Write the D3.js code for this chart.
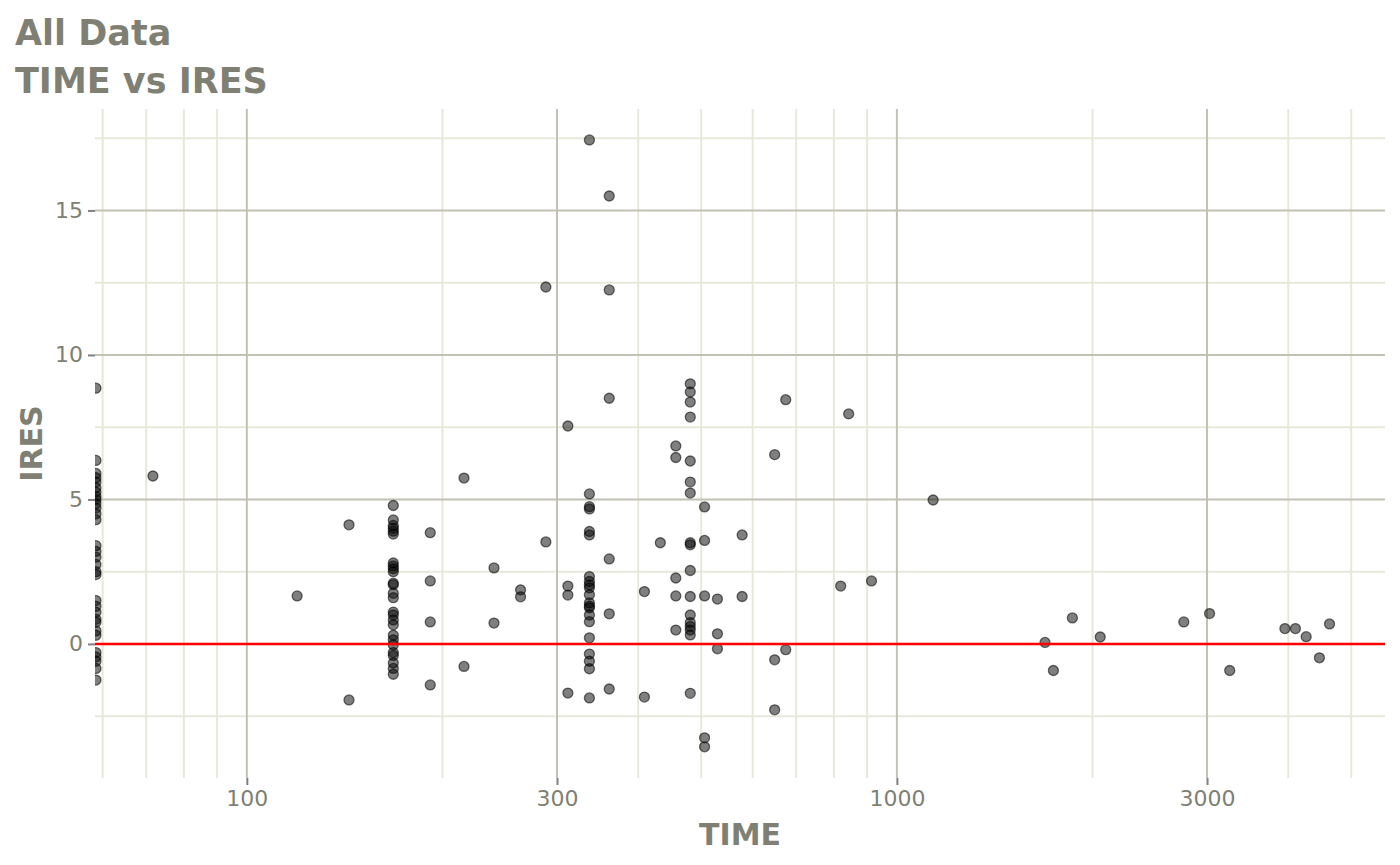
<!DOCTYPE html>
<html>
<head>
<meta charset="utf-8">
<script src="https://cdn.jsdelivr.net/npm/d3@7"></script>
<style>
  html, body { margin: 0; padding: 0; background: #fff; }
  svg { display: block; font-family: "DejaVu Sans", sans-serif; }
</style>
</head>
<body>
<svg id="chart" width="1400" height="865"></svg>
<script>
// ---- data ----
const titleLines = ["All Data", "TIME vs IRES"];
const xLabel = "TIME";
const yLabel = "IRES";

const xMajorTicks = [100, 300, 1000, 3000];
const xMinorTicks = [60, 70, 80, 90, 200, 400, 500, 600, 700, 800, 900, 2000, 4000, 5000];
const yMajorTicks = [0, 5, 10, 15];
const yMinorTicks = [-2.5, 2.5, 7.5, 12.5, 17.5];
const xDomain = [58.4, 5635];
const yDomain = [-4.64, 18.51];
const refLine = 0;

const timeVals = [
  // left edge column
  58.6, 58.6, 58.6, 58.6, 58.6, 58.6, 58.6, 58.6, 58.6, 58.6, 58.6, 58.6, 58.6, 58.6, 58.6, 58.6,
  58.6, 58.6, 58.6, 58.6, 58.6, 58.6, 58.6, 58.6, 58.6, 58.6, 58.6, 58.6, 58.6, 58.6, 58.6,
  71.7, 119.5, 143.6, 143.6,
  // column ~168
  168, 168, 168, 168, 168, 168, 168, 168, 168, 168, 168, 168, 168, 168, 168, 168, 168, 168, 168, 168, 168, 168, 168, 168, 168, 168,
  191.5, 191.5, 191.5, 191.5,
  215.8, 215.8,
  240, 240,
  263.7, 263.7,
  288.4, 288.4,
  311.8, 311.8, 311.8, 311.8,
  // column ~336
  336.5, 336.5, 336.5, 336.5, 336.5, 336.5, 336.5, 336.5, 336.5, 336.5, 336.5, 336.5, 336.5, 336.5, 336.5, 336.5, 336.5, 336.5, 336.5, 336.5, 336.5,
  361, 361, 361, 361, 361, 361,
  408.9, 408.9,
  432.6,
  457, 457, 457, 457, 457,
  // column ~481
  481, 481, 481, 481, 481, 481, 481, 481, 481, 481, 481, 481, 481, 481, 481, 481, 481,
  506, 506, 506, 506, 506,
  529.6, 529.6, 529.6,
  578, 578,
  648.6, 648.6, 648.6,
  674.5, 674.5,
  819.5, 843, 914, 1137,
  1690, 1741, 1862, 2055, 2763, 3027, 3251, 3953, 4103, 4262, 4467, 4630
];

const iresVals = [
  8.85, 6.35, 5.9, 5.75, 5.6, 5.4, 5.25, 5.1, 5.0, 4.85, 4.7, 4.5, 4.3, 3.4, 3.2, 3.0,
  2.75, 2.5, 2.4, 1.5, 1.3, 1.1, 0.85, 0.75, 0.45, 0.3, -0.3, -0.45, -0.6, -0.85, -1.25,
  5.81, 1.66, 4.12, -1.94,
  4.79, 4.29, 4.1, 4.0, 3.9, 3.8, 2.8, 2.7, 2.6, 2.5, 2.1, 2.05, 1.75, 1.6, 1.1, 1.0, 0.83, 0.66, 0.3, 0.14, -0.03, -0.3, -0.4, -0.66, -0.85, -1.05,
  3.85, 2.18, 0.76, -1.42,
  5.74, -0.78,
  2.63, 0.72,
  1.87, 1.63,
  12.35, 3.53,
  7.54, 2.0, 1.69, -1.70,
  17.44, 5.19, 4.75, 4.67, 3.89, 3.77, 2.33, 2.16, 2.04, 1.94, 1.7, 1.42, 1.31, 1.25, 1.0, 0.77, 0.21, -0.35, -0.6, -0.86, -1.87,
  15.5, 12.25, 8.5, 2.94, 1.04, -1.56,
  1.81, -1.84,
  3.5,
  6.85, 6.45, 2.28, 1.66, 0.48,
  9.0, 8.72, 8.37, 7.85, 6.33, 5.6, 5.22, 3.5, 3.43, 2.54, 1.64, 1.0, 0.74, 0.6, 0.48, 0.31, -1.71,
  4.74, 3.58, 1.66, -3.25, -3.56,
  1.55, 0.35, -0.17,
  3.77, 1.64,
  6.55, -0.55, -2.28,
  8.45, -0.2,
  2.0, 7.96, 2.18, 4.98,
  0.05, -0.92, 0.9, 0.24, 0.76, 1.05, -0.92, 0.53, 0.53, 0.25, -0.48, 0.69
];

const points = timeVals.map((t, i) => ({ t, v: iresVals[i] }));

// ---- layout ----
const W = 1400, H = 865;
const margin = { top: 109, right: 15, bottom: 87, left: 95 };
const iw = W - margin.left - margin.right;
const ih = H - margin.top - margin.bottom;

const textColor = "#7f7f74";
const majorGrid = "#c2c2b4";
const minorGrid = "#e8e8da";

const svg = d3.select("#chart");

const x = d3.scaleLog().domain(xDomain).range([0, iw]);
const y = d3.scaleLinear().domain(yDomain).range([ih, 0]);

// titles
svg.append("g").selectAll("text").data(titleLines).join("text")
  .attr("x", 15)
  .attr("y", (d, i) => 45 + i * 48)
  .attr("font-size", 35)
  .attr("font-weight", "bold")
  .attr("fill", textColor)
  .text(d => d);

const g = svg.append("g").attr("transform", `translate(${margin.left},${margin.top})`);

// clip
svg.append("defs").append("clipPath").attr("id", "panel")
  .append("rect").attr("width", iw).attr("height", ih);

// minor grid
g.append("g").selectAll("line").data(yMinorTicks).join("line")
  .attr("x1", 0).attr("x2", iw)
  .attr("y1", d => y(d)).attr("y2", d => y(d))
  .attr("stroke", minorGrid).attr("stroke-width", 2);
g.append("g").selectAll("line").data(xMinorTicks).join("line")
  .attr("x1", d => x(d)).attr("x2", d => x(d))
  .attr("y1", 0).attr("y2", ih)
  .attr("stroke", minorGrid).attr("stroke-width", 2);

// major grid
g.append("g").selectAll("line").data(yMajorTicks).join("line")
  .attr("x1", 0).attr("x2", iw)
  .attr("y1", d => y(d)).attr("y2", d => y(d))
  .attr("stroke", majorGrid).attr("stroke-width", 2);
g.append("g").selectAll("line").data(xMajorTicks).join("line")
  .attr("x1", d => x(d)).attr("x2", d => x(d))
  .attr("y1", 0).attr("y2", ih)
  .attr("stroke", majorGrid).attr("stroke-width", 2);

// points
g.append("g").attr("clip-path", "url(#panel)")
  .selectAll("circle").data(points).join("circle")
  .attr("cx", d => x(d.t))
  .attr("cy", d => y(d.v))
  .attr("r", 5)
  .attr("fill", "#000")
  .attr("fill-opacity", 0.5)
  .attr("stroke", "#000")
  .attr("stroke-opacity", 0.55)
  .attr("stroke-width", 1.3);

// reference line
g.append("line")
  .attr("x1", 0).attr("x2", iw)
  .attr("y1", y(refLine)).attr("y2", y(refLine))
  .attr("stroke", "#ff0000").attr("stroke-width", 2.5);

// axes
const xAxis = d3.axisBottom(x).tickValues(xMajorTicks).tickFormat(d3.format("d")).tickSize(7).tickPadding(5);
const gx = g.append("g").attr("transform", `translate(0,${ih})`).call(xAxis);
gx.select(".domain").remove();
gx.selectAll(".tick line").attr("stroke", "#808080").attr("stroke-width", 2);
gx.selectAll(".tick text").attr("fill", textColor).attr("font-size", 22)
  .attr("font-family", "DejaVu Sans, sans-serif");

const yAxis = d3.axisLeft(y).tickValues(yMajorTicks).tickFormat(d3.format("d")).tickSize(7).tickPadding(5);
const gy = g.append("g").call(yAxis);
gy.select(".domain").remove();
gy.selectAll(".tick line").attr("stroke", "#808080").attr("stroke-width", 2);
gy.selectAll(".tick text").attr("fill", textColor).attr("font-size", 22)
  .attr("font-family", "DejaVu Sans, sans-serif");

// axis titles
svg.append("text")
  .attr("x", margin.left + iw / 2)
  .attr("y", 845)
  .attr("text-anchor", "middle")
  .attr("font-size", 30)
  .attr("font-weight", "bold")
  .attr("fill", textColor)
  .text(xLabel);

svg.append("text")
  .attr("transform", `translate(42,${margin.top + ih / 2}) rotate(-90)`)
  .attr("text-anchor", "middle")
  .attr("font-size", 30)
  .attr("font-weight", "bold")
  .attr("fill", textColor)
  .text(yLabel);
</script>
</body>
</html>
